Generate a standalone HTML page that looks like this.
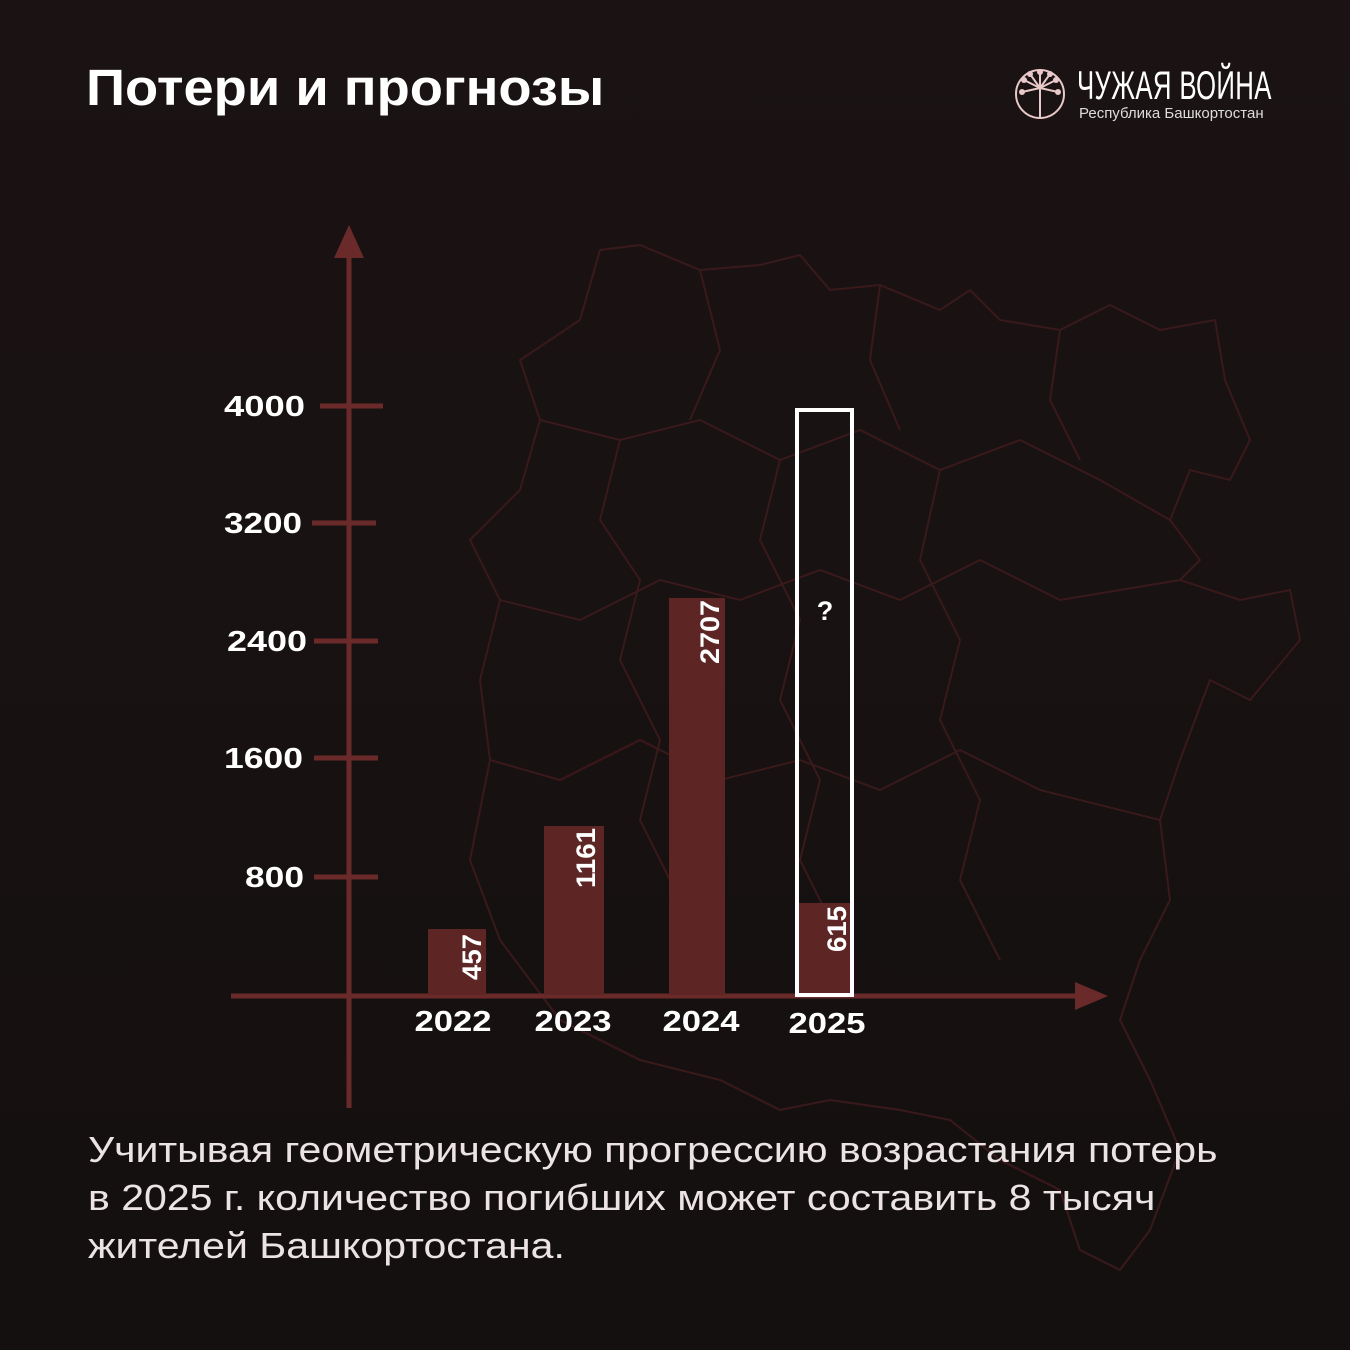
<!DOCTYPE html>
<html><head><meta charset="utf-8"><style>
body{margin:0;width:1350px;height:1350px;overflow:hidden;background:linear-gradient(180deg,#1b1313 0%,#171111 60%,#141010 100%);font-family:"Liberation Sans",sans-serif;position:relative}
.t{position:absolute;color:#fff;font-weight:bold}
</style></head><body>
<svg width="1350" height="1350" style="position:absolute;left:0;top:0">
<g fill="none" stroke="#3a191b" stroke-width="2">
<path d="M600 250 L640 245 L700 270 L760 265 L800 255 L830 290 L880 285 L940 310 L970 290 L1000 320 L1060 330 L1110 305 L1160 330 L1215 320 L1225 380 L1250 440 L1230 480 L1190 470 L1170 520 L1200 560 L1180 580 L1240 600 L1290 590 L1300 640 L1250 700 L1210 680 L1180 760 L1160 820 L1170 900 L1140 960 L1120 1020 L1150 1080 L1180 1150 L1150 1230 L1120 1270 L1080 1250 L1060 1190 L1000 1160 L950 1120 L900 1110 L830 1100 L780 1110 L720 1080 L640 1060 L560 1020 L500 940 L470 860 L490 760 L480 680 L500 600 L470 540 L520 490 L540 420 L520 360 L580 320 Z"/>
<path d="M540 420 L620 440 L700 420 L780 460 L860 430 L940 470 L1020 440 L1100 480 L1170 520 M500 600 L580 620 L660 580 L740 600 L820 570 L900 600 L980 560 L1060 600 L1180 580 M490 760 L560 780 L640 740 L720 780 L800 760 L880 790 L960 750 L1040 790 L1160 820 M620 440 L600 520 L640 580 L620 660 L660 740 L640 820 L680 900 M780 460 L760 540 L800 620 L780 700 L820 780 L800 860 L840 940 M940 470 L920 560 L960 640 L940 720 L980 800 L960 880 L1000 960 M700 270 L720 350 L690 420 M880 285 L870 360 L900 430 M1060 330 L1050 400 L1080 460"/>
</g>
<g fill="#6b2a2a" stroke="#6b2a2a">
<line x1="349" y1="250" x2="349" y2="1108" stroke-width="5"/>
<polygon points="349,225 334,258 364,258" stroke="none"/>
<line x1="231" y1="996" x2="1080" y2="996" stroke-width="5"/>
<polygon points="1108,996 1075,982 1075,1010" stroke="none"/>
<g stroke-width="5"><line x1="320" y1="406" x2="383" y2="406"/><line x1="312" y1="523" x2="376" y2="523"/><line x1="314" y1="641" x2="378" y2="641"/><line x1="314" y1="758" x2="378" y2="758"/><line x1="314" y1="877" x2="378" y2="877"/></g>
</g>
<g fill="#5e2525">
<rect x="428" y="929" width="58" height="66"/>
<rect x="544" y="826" width="60" height="169"/>
<rect x="669" y="598" width="56" height="397"/>
<rect x="798" y="903" width="53" height="92"/>
</g>
<rect x="797" y="410" width="55" height="585" fill="none" stroke="#fff" stroke-width="4"/>
<g fill="#fff" font-family="Liberation Sans,sans-serif" font-weight="bold" font-size="27" text-anchor="middle">
<text transform="translate(481,957) rotate(-90)" textLength="46" lengthAdjust="spacingAndGlyphs">457</text>
<text transform="translate(595,858) rotate(-90)" textLength="60" lengthAdjust="spacingAndGlyphs">1161</text>
<text transform="translate(719,632) rotate(-90)" textLength="64" lengthAdjust="spacingAndGlyphs">2707</text>
<text transform="translate(846,929) rotate(-90)" textLength="46" lengthAdjust="spacingAndGlyphs">615</text>
<text x="825" y="620">?</text>
<g font-size="29"><text x="453" y="1031" textLength="77" lengthAdjust="spacingAndGlyphs">2022</text><text x="573" y="1031" textLength="77" lengthAdjust="spacingAndGlyphs">2023</text><text x="701" y="1031" textLength="77" lengthAdjust="spacingAndGlyphs">2024</text><text x="827" y="1033" textLength="77" lengthAdjust="spacingAndGlyphs">2025</text></g>
<g text-anchor="start" font-size="29"><text x="224" y="416" textLength="81" lengthAdjust="spacingAndGlyphs">4000</text><text x="224" y="533" textLength="78" lengthAdjust="spacingAndGlyphs">3200</text><text x="227" y="651" textLength="80" lengthAdjust="spacingAndGlyphs">2400</text><text x="224" y="768" textLength="79" lengthAdjust="spacingAndGlyphs">1600</text><text x="245" y="887" textLength="59" lengthAdjust="spacingAndGlyphs">800</text></g>
</g>
<g stroke="#e8c8c8" stroke-width="2" fill="none">
<circle cx="1040" cy="94" r="24"/>
<line x1="1040" y1="88" x2="1040" y2="117"/>
<path d="M1040 88 L1024 80 M1040 88 L1030 74 M1040 88 L1040 72 M1040 88 L1050 74 M1040 88 L1056 80 M1040 88 L1022 92 M1040 88 L1058 92"/>
</g>
<g fill="#e8c8c8"><circle cx="1024" cy="80" r="3"/><circle cx="1030" cy="74" r="3"/><circle cx="1040" cy="72" r="3"/><circle cx="1050" cy="74" r="3"/><circle cx="1056" cy="80" r="3"/><circle cx="1022" cy="92" r="3"/><circle cx="1058" cy="92" r="3"/></g>
</svg>
<div class="t" style="left:86px;top:58px;font-size:51px;transform:scaleX(1.065);transform-origin:left;white-space:nowrap">Потери и прогнозы</div>
<div style="position:absolute;left:1077px;top:64px;color:#fff;font-size:40px;transform:scaleX(0.645);transform-origin:left;white-space:nowrap;letter-spacing:0.5px">ЧУЖАЯ ВОЙНА</div>
<div style="position:absolute;left:1079px;top:105px;color:#ddd;font-size:15px;white-space:nowrap">Республика Башкортостан</div>
<div style="position:absolute;left:88px;top:1126px;color:#ece4e4;font-size:36px;line-height:48px;white-space:nowrap;transform:scaleX(1.14);transform-origin:left">Учитывая геометрическую прогрессию возрастания потерь<br>в 2025 г. количество погибших может составить 8 тысяч<br>жителей Башкортостана.</div>
</body></html>
